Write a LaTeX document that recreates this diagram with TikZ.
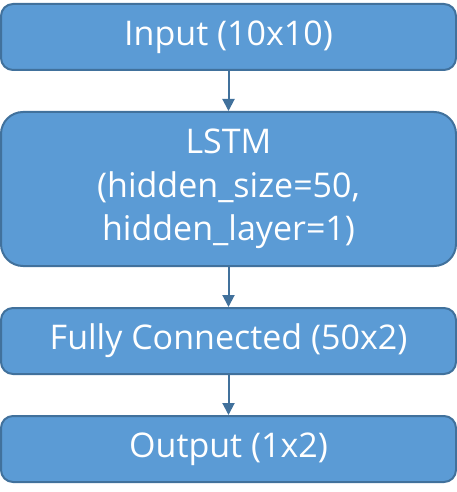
\documentclass[tikz,border=0pt]{standalone}
\usepackage{fontspec}
\setmainfont{Open Sans}
\usetikzlibrary{positioning,arrows.meta}

\definecolor{boxfill}{HTML}{5B9BD5}
\definecolor{boxline}{HTML}{41719C}

\begin{document}
\begin{tikzpicture}[
            x=1pt, y=1pt,
            node distance=40pt,
            layer/.style={rectangle, draw=boxline, line width=2pt, fill=boxfill, rounded corners=12pt,
                minimum width=455pt, minimum height=66pt, align=center, text=white,
                font=\fontsize{34}{43.5}\selectfont, inner sep=0pt},
            arrow/.style={-{Triangle[length=12pt, width=12pt]}, draw=boxline, line width=2pt}
        ]
            \useasboundingbox (0,0) rectangle (457,-492);

            % Layers
            \node[layer, anchor=north] (input) at (228.5,-3) {Input (10x10)};
            \node[layer, below=of input, minimum height=154pt, rounded corners=22pt] (lstm) {LSTM\\(hidden\_size=50,\\hidden\_layer=1)};
            \node[layer, below=of lstm] (fc) {Fully Connected (50x2)};
            \node[layer, below=of fc] (output) {Output (1x2)};

            % Arrows
            \draw[arrow] (input) -- (lstm);
            \draw[arrow] (lstm) -- (fc);
            \draw[arrow] (fc) -- (output);
        \end{tikzpicture}
\end{document}
